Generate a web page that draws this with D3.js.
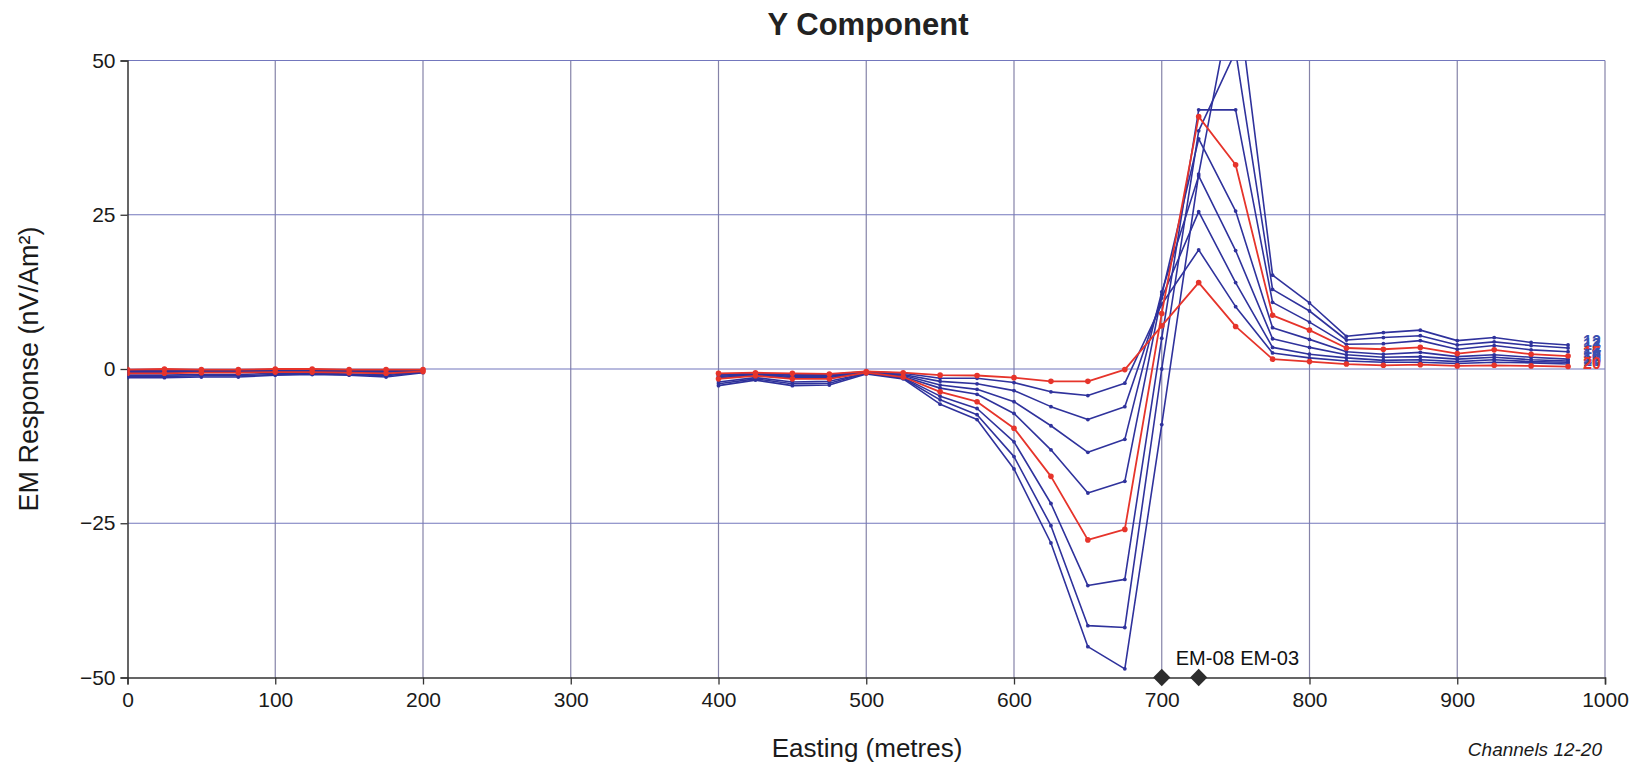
<!DOCTYPE html>
<html><head><meta charset="utf-8">
<script src="https://cdn.jsdelivr.net/npm/d3@7/dist/d3.min.js"></script>
<style>
html,body{margin:0;padding:0;background:#fff;}
svg{display:block;font-family:"Liberation Sans",Arial,Helvetica,sans-serif;}
</style></head>
<body>
<svg id="chart" width="1631" height="762"></svg>
<script>
// ---- data ----
const channels = [12, 13, 14, 15, 16, 17, 18, 19, 20];
const redChannels = [15, 20];
const eastingWest = [0, 25, 50, 75, 100, 125, 150, 175, 200];
const eastingEast = [400, 425, 450, 475, 500, 525, 550, 575, 600, 625, 650, 675, 700, 725, 750, 775, 800, 825, 850, 875, 900, 925, 950, 975];

const ch12West = [-1.4, -1.4, -1.3, -1.3, -1.0, -0.9, -1.0, -1.3, -0.6];
const ch13West = [-1.2, -1.2, -1.1, -1.1, -0.9, -0.8, -0.9, -1.1, -0.5];
const ch14West = [-1.0, -1.0, -0.9, -0.9, -0.7, -0.7, -0.8, -0.9, -0.5];
const ch15West = [-0.7, -0.7, -0.6, -0.6, -0.5, -0.5, -0.6, -0.7, -0.4];
const ch16West = [-0.5, -0.5, -0.5, -0.5, -0.4, -0.4, -0.5, -0.5, -0.3];
const ch17West = [-0.4, -0.4, -0.4, -0.4, -0.3, -0.3, -0.4, -0.4, -0.3];
const ch18West = [-0.3, -0.3, -0.3, -0.3, -0.2, -0.2, -0.3, -0.3, -0.2];
const ch19West = [-0.2, -0.2, -0.2, -0.2, -0.1, -0.1, -0.2, -0.2, -0.2];
const ch20West = [-0.1, 0.0, -0.1, -0.1, 0.0, 0.0, -0.1, -0.1, -0.1];

const ch12East = [-2.7, -1.8, -2.7, -2.6, -0.8, -1.6, -5.7, -8.2, -16.2, -28.2, -45.0, -48.6, -9.0, 31.6, 63.0, 15.2, 10.7, 5.3, 5.9, 6.3, 4.6, 5.1, 4.3, 3.9];
const ch13East = [-2.4, -1.6, -2.4, -2.3, -0.7, -1.5, -5.0, -7.4, -14.2, -25.4, -41.6, -41.9, 0.0, 38.6, 51.5, 12.9, 9.4, 4.7, 5.1, 5.4, 3.9, 4.4, 3.8, 3.4];
const ch14East = [-2.1, -1.4, -2.1, -2.0, -0.7, -1.4, -4.4, -6.4, -11.8, -21.8, -35.1, -34.1, 5.0, 42.0, 42.0, 10.8, 7.6, 4.0, 4.1, 4.6, 3.2, 3.8, 3.1, 2.8];
const ch15East = [-1.6, -1.1, -1.6, -1.6, -0.6, -1.3, -3.7, -5.3, -9.6, -17.4, -27.7, -26.0, 9.0, 40.9, 33.1, 8.7, 6.3, 3.4, 3.2, 3.5, 2.5, 3.1, 2.4, 2.1];
const ch16East = [-1.4, -1.0, -1.4, -1.4, -0.6, -1.2, -3.1, -4.1, -7.2, -13.1, -20.1, -18.2, 12.0, 37.3, 25.6, 6.7, 4.8, 2.8, 2.4, 2.7, 2.0, 2.3, 1.9, 1.6];
const ch17East = [-1.2, -0.9, -1.2, -1.2, -0.5, -1.0, -2.6, -3.3, -5.3, -9.2, -13.5, -11.4, 12.5, 31.3, 19.2, 4.9, 3.5, 2.3, 1.9, 2.0, 1.6, 1.9, 1.5, 1.3];
const ch18East = [-1.0, -0.8, -1.0, -1.0, -0.5, -0.9, -2.0, -2.4, -3.5, -6.1, -8.2, -6.1, 11.5, 25.5, 14.0, 3.5, 2.4, 1.8, 1.4, 1.5, 1.2, 1.5, 1.2, 1.1];
const ch19East = [-0.9, -0.7, -0.9, -0.9, -0.4, -0.7, -1.5, -1.5, -2.2, -3.7, -4.3, -2.3, 10.5, 19.3, 10.1, 2.6, 1.8, 1.3, 1.1, 1.1, 0.9, 1.1, 1.0, 0.8];
const ch20East = [-0.7, -0.6, -0.7, -0.8, -0.4, -0.6, -1.0, -1.05, -1.4, -2.0, -2.0, -0.1, 7.0, 14.0, 6.9, 1.6, 1.2, 0.8, 0.6, 0.7, 0.5, 0.6, 0.5, 0.4];

const xTicks = [0, 100, 200, 300, 400, 500, 600, 700, 800, 900, 1000];
const yTicks = [-50, -25, 0, 25, 50];
const stations = [{name: "EM-08", x: 700}, {name: "EM-03", x: 725}];

const westSeries = [ch12West, ch13West, ch14West, ch15West, ch16West, ch17West, ch18West, ch19West, ch20West];
const eastSeries = [ch12East, ch13East, ch14East, ch15East, ch16East, ch17East, ch18East, ch19East, ch20East];

// ---- layout ----
const svg = d3.select("#chart");
const x = d3.scaleLinear().domain([0, 1000]).range([127.5, 1605]);
const y = d3.scaleLinear().domain([-50, 50]).range([677.5, 60.5]);

const BLUE = "#2f329c";
const RED = "#e6342b";

svg.append("rect").attr("width", 1631).attr("height", 762).attr("fill", "#fff");

svg.append("defs").append("clipPath").attr("id", "plotclip")
  .append("rect").attr("x", x(0)).attr("y", y(50)).attr("width", x(1000) - x(0)).attr("height", y(-50) - y(50));

// gridlines
const grid = svg.append("g");
grid.selectAll("line.v").data(xTicks.filter(d => d > 0)).join("line")
  .attr("x1", d => x(d)).attr("x2", d => x(d)).attr("y1", y(50)).attr("y2", y(-50))
  .attr("stroke", "#8583a8").attr("stroke-width", 1.2);
grid.selectAll("line.h").data(yTicks.filter(d => d > -50)).join("line")
  .attr("x1", x(0)).attr("x2", x(1000)).attr("y1", d => y(d)).attr("y2", d => y(d))
  .attr("stroke", "#7377bd").attr("stroke-width", 1.2);

// axes
const yAxis = d3.axisLeft(y).tickValues(yTicks).tickSize(7).tickPadding(5).tickFormat(d3.format("d"));
const gy = svg.append("g").attr("transform", `translate(${x(0)},0)`).call(yAxis);
gy.select(".domain").attr("stroke", "#333").attr("stroke-width", 1.5);
gy.selectAll(".tick line").attr("stroke", "#333").attr("stroke-width", 1.3);
gy.selectAll(".tick text").attr("font-size", 21).attr("fill", "#1a1a1a").attr("font-family", "Liberation Sans, Arial, sans-serif");

const xAxis = d3.axisBottom(x).tickValues(xTicks).tickSize(7).tickPadding(8).tickFormat(d3.format("d"));
const gx = svg.append("g").attr("transform", `translate(0,${y(-50)})`).call(xAxis);
gx.select(".domain").attr("stroke", "#333").attr("stroke-width", 1.5);
gx.selectAll(".tick line").attr("stroke", "#333").attr("stroke-width", 1.3);
gx.selectAll(".tick text").attr("font-size", 21).attr("fill", "#1a1a1a").attr("font-family", "Liberation Sans, Arial, sans-serif");

// lines
const line = d3.line().x(d => x(d[0])).y(d => y(d[1]));
const plot = svg.append("g").attr("clip-path", "url(#plotclip)");

const order = channels.map((c, i) => i).sort((a, b) => (redChannels.includes(channels[a]) ? 1 : 0) - (redChannels.includes(channels[b]) ? 1 : 0));
order.forEach(i => {
  const ch = channels[i];
  const isRed = redChannels.includes(ch);
  const col = isRed ? RED : BLUE;
  const segs = [
    eastingWest.map((e, j) => [e, westSeries[i][j]]),
    eastingEast.map((e, j) => [e, eastSeries[i][j]])
  ];
  segs.forEach(seg => {
    plot.append("path").attr("d", line(seg)).attr("fill", "none")
      .attr("stroke", col).attr("stroke-width", isRed ? 1.8 : 1.6).attr("stroke-linejoin", "round");
    plot.selectAll(null).data(seg).join("circle")
      .attr("cx", d => x(d[0])).attr("cy", d => y(d[1]))
      .attr("r", isRed ? 2.8 : 1.9).attr("fill", col);
  });
});

// channel labels at right end (overlapping, as in the original)
channels.forEach((ch, i) => {
  const last = eastSeries[i][eastSeries[i].length - 1];
  svg.append("text").attr("x", x(975) + 15).attr("y", y(last) + 2)
    .attr("font-size", 16).attr("font-weight", "bold")
    .attr("fill", redChannels.includes(ch) ? RED : "#3a4fb0")
    .text(ch);
});

// station markers
svg.selectAll("path.st").data(stations).join("path")
  .attr("d", d3.symbol().type(d3.symbolDiamond2).size(190))
  .attr("transform", d => `translate(${x(d.x)},${y(-50)})`)
  .attr("fill", "#2d2d2d");
svg.append("text").attr("x", x(stations[0].x) + 14).attr("y", y(-50) - 13)
  .attr("font-size", 20).attr("fill", "#111")
  .text(stations.map(s => s.name).join(" "));

// titles
svg.append("text").attr("x", 868).attr("y", 35).attr("text-anchor", "middle")
  .attr("font-size", 31).attr("font-weight", "bold").attr("fill", "#222").text("Y Component");
svg.append("text").attr("transform", `translate(38,${y(0)}) rotate(-90)`).attr("text-anchor", "middle")
  .attr("font-size", 27).attr("fill", "#1a1a1a").text("EM Response (nV/Am²)");
svg.append("text").attr("x", 867).attr("y", 757).attr("text-anchor", "middle")
  .attr("font-size", 26).attr("fill", "#1a1a1a").text("Easting (metres)");
svg.append("text").attr("x", 1602).attr("y", 756).attr("text-anchor", "end")
  .attr("font-size", 19).attr("font-style", "italic").attr("fill", "#1a1a1a").text("Channels 12-20");
</script>
</body></html>
